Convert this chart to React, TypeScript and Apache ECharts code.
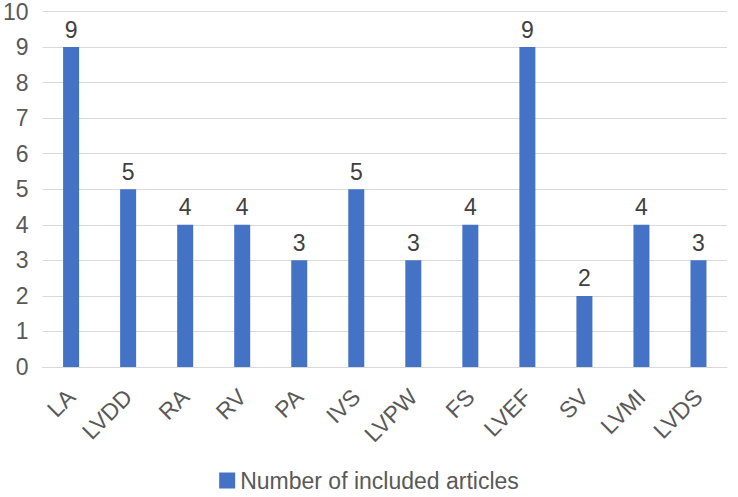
import React, { useEffect, useRef } from "react";
import * as echarts from "echarts";

const categories = ["LA", "LVDD", "RA", "RV", "PA", "IVS", "LVPW", "FS", "LVEF", "SV", "LVMI", "LVDS"];
const values = [9, 5, 4, 4, 3, 5, 3, 4, 9, 2, 4, 3];
const seriesName = "Number of included articles";

export default function App() {
  const ref = useRef<HTMLDivElement>(null);
  useEffect(() => {
    const chart = echarts.init(ref.current!, null, { renderer: "svg" });
    const font = "'Liberation Sans', Arial, sans-serif";
    chart.setOption({
      animation: false,
      textStyle: { fontFamily: font },
      grid: { left: 40, right: 11, top: 10, bottom: 130, containLabel: false },
      legend: {
        bottom: 0,
        left: "center",
        itemWidth: 16,
        itemHeight: 16,
        icon: "rect",
        itemGap: 8,
        textStyle: { fontSize: 23, color: "#595959", fontFamily: font },
        data: [seriesName],
      },
      xAxis: {
        type: "category",
        data: categories,
        axisLine: { lineStyle: { color: "#d9d9d9", width: 1 } },
        axisTick: { show: false },
        axisLabel: { rotate: 45, fontSize: 23, color: "#595959", margin: 26, interval: 0, fontFamily: font },
      },
      yAxis: {
        type: "value",
        min: 0,
        max: 10,
        interval: 1,
        axisLine: { show: false },
        axisTick: { show: false },
        splitLine: { lineStyle: { color: "#d9d9d9", width: 1 } },
        axisLabel: { fontSize: 23, color: "#595959", margin: 14, fontFamily: font },
      },
      series: [
        {
          name: seriesName,
          type: "bar",
          data: values,
          barWidth: 16,
          itemStyle: { color: "#4472C4" },
          label: { show: true, position: "top", fontSize: 23, color: "#404040", distance: 6, fontFamily: font },
        },
      ],
    });
    return () => chart.dispose();
  }, []);
  return <div ref={ref} style={{ width: 738, height: 497, position: "absolute", left: 0, top: 0 }} />;
}
